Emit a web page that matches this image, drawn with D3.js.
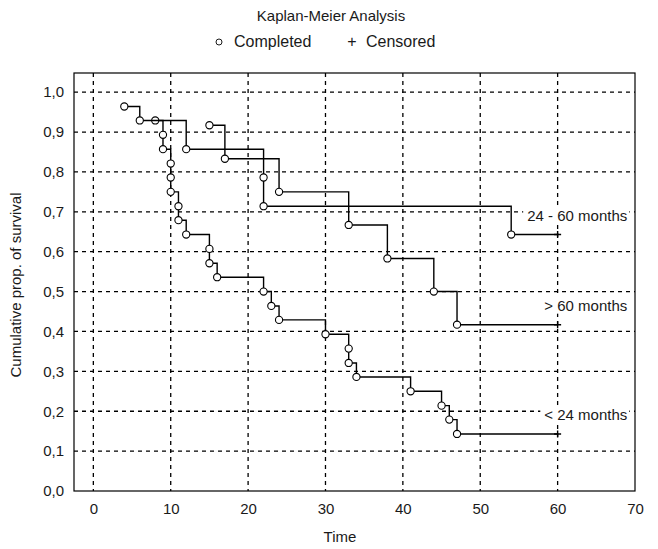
<!DOCTYPE html>
<html>
<head>
<meta charset="utf-8">
<script src="https://cdn.jsdelivr.net/npm/d3@7"></script>
<style>
  body { margin: 0; background: #fff; }
  text { font-family: "Liberation Sans", Arial, sans-serif; fill: #1a1a1a; }
</style>
</head>
<body>
<svg id="chart"></svg>
<script>
// chart values
const titleText = 'Kaplan-Meier Analysis';
const xTicks = [0, 10, 20, 30, 40, 50, 60, 70];
const yTicks = [0, 0.1, 0.2, 0.3, 0.4, 0.5, 0.6, 0.7, 0.8, 0.9, 1.0];
const groupNames = ['24 - 60 months', '> 60 months', '< 24 months'];
const censorTimes = [60, 60, 60];

// event (completed) times and survival after each event
const midTimes = [8, 12, 22, 22, 54];
const midSurv = [0.929, 0.857, 0.786, 0.714, 0.643];
const highTimes = [15, 17, 24, 33, 38, 44, 47];
const highSurv = [0.917, 0.833, 0.750, 0.667, 0.583, 0.500, 0.417];
const lowTimes = [4, 6, 9, 9, 10, 10, 10, 11, 11, 12, 15, 15, 16, 22, 23, 24, 30, 33, 33, 34, 41, 45, 46, 47];
const lowSurv = [0.964, 0.929, 0.893, 0.857, 0.821, 0.786, 0.750, 0.714, 0.679, 0.643, 0.607, 0.571, 0.536,
  0.500, 0.464, 0.429, 0.393, 0.357, 0.321, 0.286, 0.250, 0.214, 0.179, 0.143];

const width = 658;
const height = 549;
const margin = { top: 73, right: 23, bottom: 58, left: 74 };

const svg = d3.select('#chart')
  .attr('width', width)
  .attr('height', height);

const x = d3.scaleLinear().domain([-2.5, 70]).range([margin.left, width - margin.right]);
const y = d3.scaleLinear().domain([0, 1.048]).range([height - margin.bottom, margin.top]);

// decimal comma like the original
const fmt = d3.formatLocale({ decimal: ',', thousands: '.', grouping: [3], currency: ['', ''] }).format('.1f');

// grid
const grid = svg.append('g')
  .attr('stroke', '#000')
  .attr('stroke-width', 1.3)
  .attr('stroke-dasharray', '4,4');
grid.selectAll('line.v')
  .data(xTicks.filter(d => d < 70))
  .enter().append('line')
  .attr('class', 'v')
  .attr('x1', d => x(d)).attr('x2', d => x(d))
  .attr('y1', y.range()[1]).attr('y2', y.range()[0]);
grid.selectAll('line.h')
  .data(yTicks.filter(d => d > 0))
  .enter().append('line')
  .attr('class', 'h')
  .attr('x1', x.range()[0]).attr('x2', x.range()[1])
  .attr('y1', d => y(d)).attr('y2', d => y(d));

// frame
svg.append('rect')
  .attr('x', x.range()[0])
  .attr('y', y.range()[1])
  .attr('width', x.range()[1] - x.range()[0])
  .attr('height', y.range()[0] - y.range()[1])
  .attr('fill', 'none')
  .attr('stroke', '#000')
  .attr('stroke-width', 1.2);

// axes: labels only, no tick marks
const xAxis = svg.append('g')
  .attr('transform', `translate(0,${y.range()[0] + 6})`)
  .call(d3.axisBottom(x).tickValues(xTicks).tickSize(0).tickPadding(6));
const yAxis = svg.append('g')
  .attr('transform', `translate(${x.range()[0] - 10},0)`)
  .call(d3.axisLeft(y).tickValues(yTicks).tickFormat(fmt).tickSize(0).tickPadding(0));
[xAxis, yAxis].forEach(a => {
  a.select('.domain').remove();
  a.selectAll('text').attr('font-size', 15).attr('font-family', null);
});

// survival curves
const groups = [
  { name: groupNames[0], times: midTimes, surv: midSurv, censor: censorTimes[0] },
  { name: groupNames[1], times: highTimes, surv: highSurv, censor: censorTimes[1] },
  { name: groupNames[2], times: lowTimes, surv: lowSurv, censor: censorTimes[2] }
];

const stepLine = d3.line()
  .x(d => x(d[0]))
  .y(d => y(d[1]))
  .curve(d3.curveStepAfter);

groups.forEach(g => {
  const pts = g.times.map((t, i) => [t, g.surv[i]]);
  const last = g.surv[g.surv.length - 1];
  const layer = svg.append('g');

  layer.append('path')
    .attr('d', stepLine(pts.concat([[g.censor, last]])))
    .attr('fill', 'none')
    .attr('stroke', '#000')
    .attr('stroke-width', 1.4);

  // completed
  layer.selectAll('circle')
    .data(pts)
    .enter().append('circle')
    .attr('cx', d => x(d[0]))
    .attr('cy', d => y(d[1]))
    .attr('r', 3.6)
    .attr('fill', '#fff')
    .attr('stroke', '#000')
    .attr('stroke-width', 1.1);

  // censored
  const cx = x(g.censor);
  const cy = y(last);
  layer.append('path')
    .attr('d', `M${cx - 3.5},${cy}H${cx + 3.5}M${cx},${cy - 3.5}V${cy + 3.5}`)
    .attr('stroke', '#000')
    .attr('stroke-width', 1.4);

  // group label with white box behind
  const lbl = layer.append('text')
    .attr('x', x(69))
    .attr('y', cy - 14)
    .attr('text-anchor', 'end')
    .attr('font-size', 15)
    .text(g.name);
  const bb = lbl.node().getBBox();
  layer.insert('rect', 'text')
    .attr('x', bb.x - 4)
    .attr('y', bb.y)
    .attr('width', bb.width + 6)
    .attr('height', bb.height)
    .attr('fill', '#fff');
});

// titles
svg.append('text')
  .attr('x', 331)
  .attr('y', 21)
  .attr('text-anchor', 'middle')
  .attr('font-size', 15)
  .text(titleText);

const legend = svg.append('g').attr('transform', 'translate(0,42)');
legend.append('circle')
  .attr('cx', 219).attr('cy', 0).attr('r', 3)
  .attr('fill', 'none').attr('stroke', '#1a1a1a').attr('stroke-width', 1);
legend.append('text').attr('x', 234).attr('y', 5).attr('font-size', 16).text('Completed');
legend.append('text').attr('x', 352).attr('y', 5).attr('text-anchor', 'middle').attr('font-size', 16).text('+');
legend.append('text').attr('x', 366).attr('y', 5).attr('font-size', 16).text('Censored');

svg.append('text')
  .attr('x', 340)
  .attr('y', 542)
  .attr('text-anchor', 'middle')
  .attr('font-size', 15)
  .text('Time');

svg.append('text')
  .attr('transform', `translate(21,${(y.range()[0] + y.range()[1]) / 2 + 3}) rotate(-90)`)
  .attr('text-anchor', 'middle')
  .attr('font-size', 15)
  .text('Cumulative prop. of survival');
</script>
</body>
</html>
